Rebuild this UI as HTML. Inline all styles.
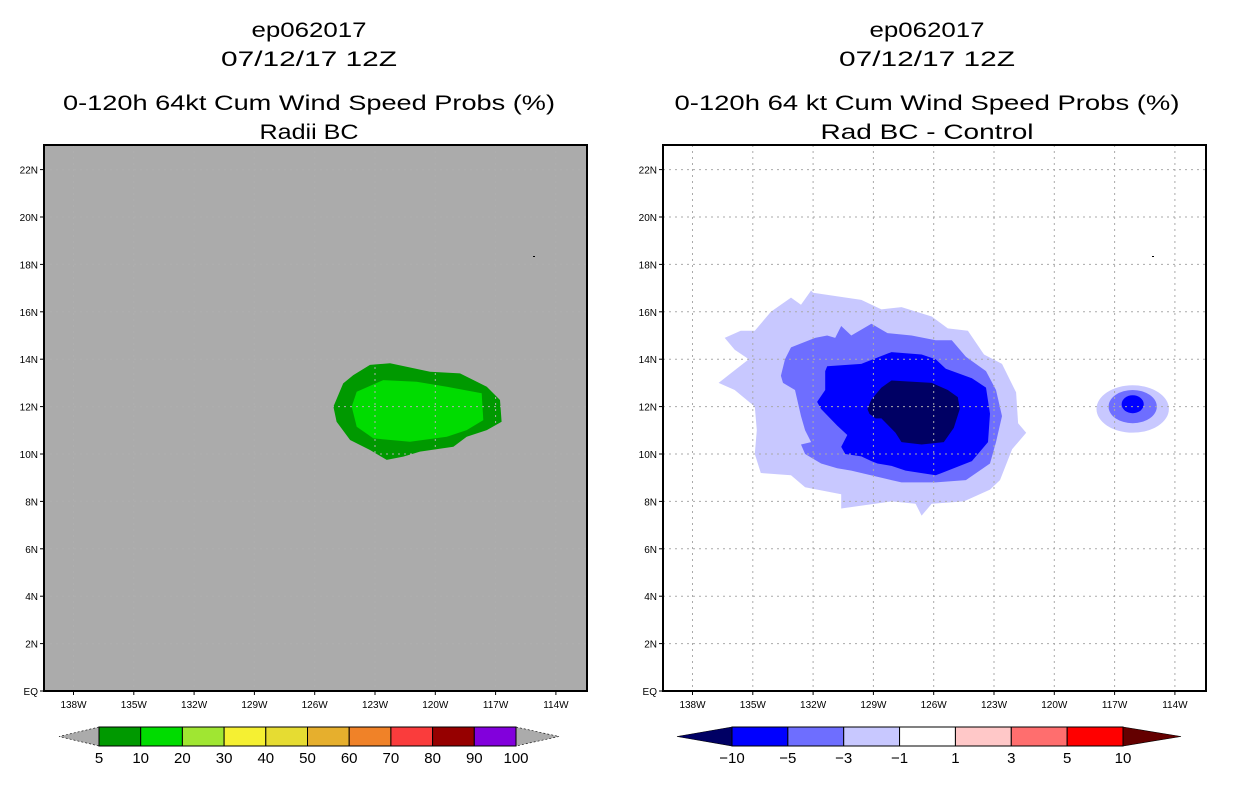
<!DOCTYPE html>
<html><head><meta charset="utf-8"><style>
html,body{margin:0;padding:0;background:#fff;}
svg{display:block;}
text{font-family:"Liberation Sans",sans-serif;fill:#000;}
</style></head><body>
<svg id="s" width="1236" height="800" viewBox="0 0 1236 800" xmlns="http://www.w3.org/2000/svg"></svg>
<script>
// ---- data ----
const lonTicks = [138,135,132,129,126,123,120,117,114];
const latTicks = [0,2,4,6,8,10,12,14,16,18,20,22];
const leftLevels = ["5","10","20","30","40","50","60","70","80","90","100"];
const leftColors = ["#009900","#00dc00","#a0e632","#f5f032","#e6dc32","#e6af2d","#f08228","#fa3c3c","#960000","#8200dc"];
const rightLevels = ["-10","-5","-3","-1","1","3","5","10"];
const rightColors = ["#0000ff","#6e6eff","#c8c8ff","#ffffff","#ffc8c8","#ff6e6e","#ff0000"];
// contour polygons [lonW, latN]
const green10 = [[123.25,13.76],[122.25,13.83],[120.26,13.47],[118.77,13.40],[117.44,12.84],[116.78,12.28],[116.70,11.36],[117.44,11.01],[118.44,10.73],[119.10,10.31],[120.76,10.10],[121.59,9.89],[122.42,9.75],[123.25,10.17],[124.24,10.59],[124.91,11.36],[125.07,12.0],[124.58,12.98],[124.08,13.33]];
const green20 = [[123.91,12.63],[122.59,13.12],[120.93,13.05],[119.43,12.84],[117.69,12.56],[117.61,11.43],[118.44,11.01],[119.43,10.73],[121.26,10.52],[123.08,10.66],[123.91,11.15],[124.16,12.0]];
const diffM1 = [[132.1,16.9],[132.0,16.8],[129.6,16.5],[128.6,16.1],[127.6,16.2],[126.1,15.8],[125.3,15.3],[124.3,15.2],[123.5,14.2],[122.6,13.8],[121.9,12.6],[121.8,11.3],[121.4,10.9],[122.1,10.2],[122.7,8.9],[123.2,8.5],[124.5,8.0],[126.1,7.9],[126.6,7.4],[126.9,7.9],[128.1,8.0],[130.6,7.7],[130.6,8.3],[132.4,8.6],[133.1,9.1],[134.6,9.2],[134.9,10.0],[134.8,11.0],[134.9,12.0],[135.9,12.7],[136.7,13.0],[136.1,13.4],[135.2,14.0],[135.9,14.4],[136.4,14.9],[135.6,15.2],[134.9,15.2],[134.1,16.0],[133.1,16.6],[132.6,16.3]];
const diffM3 = [[133.1,14.5],[131.9,14.9],[131.3,15.0],[130.9,14.9],[130.6,15.4],[130.1,15.0],[129.1,15.5],[128.3,15.1],[127.1,15.0],[125.9,14.8],[125.1,14.8],[124.4,14.1],[123.4,13.5],[122.9,12.7],[122.6,11.6],[122.9,10.5],[123.2,9.6],[124.4,8.9],[125.9,8.8],[127.6,8.8],[128.1,8.9],[130.1,9.3],[130.8,9.4],[131.6,9.6],[132.4,10.0],[132.6,10.4],[132.1,10.5],[132.4,11.0],[132.6,11.6],[132.9,12.7],[133.5,13.0],[133.6,13.3],[133.4,14.0]];
const diffM5 = [[131.3,13.7],[129.6,13.8],[128.1,14.3],[126.6,14.2],[125.9,14.0],[125.4,13.6],[124.1,13.2],[123.4,12.8],[123.2,11.7],[123.3,10.5],[124.1,9.7],[125.6,9.2],[125.9,9.1],[127.4,9.3],[128.1,9.5],[128.8,9.6],[129.1,9.7],[129.6,9.9],[130.4,10.0],[130.6,10.3],[130.3,10.8],[130.8,11.2],[131.6,11.9],[131.8,12.2],[131.4,12.7],[131.4,13.5]];
const diffM10 = [[129.3,11.9],[129.1,12.3],[128.6,12.8],[128.1,13.1],[126.1,13.0],[125.3,12.7],[124.8,12.4],[124.7,11.9],[125.0,11.1],[125.5,10.5],[126.6,10.4],[127.6,10.5],[127.9,10.9],[128.6,11.5],[128.9,11.5],[129.2,11.7]];
// small feature near 116W: [centerLonW, centerLatN, radLon, radLat]
const blobs = [[116.1,11.9,1.8,1.0,"#c8c8ff"],[116.1,12.0,1.2,0.7,"#6e6eff"],[116.1,12.1,0.55,0.38,"#0000ff"]];

// ---- helpers ----
const NS="http://www.w3.org/2000/svg";
const svg=document.getElementById('s');
function mk(tag,attrs,parent){const e=document.createElementNS(NS,tag);for(const k in attrs)e.setAttribute(k,attrs[k]);(parent||svg).appendChild(e);return e;}
function txt(x,y,s,size,anchor,len,parent){const t=mk('text',{x:x,y:y,'font-size':size,'text-anchor':anchor||'middle'},parent);if(len){t.setAttribute('textLength',len);t.setAttribute('lengthAdjust','spacingAndGlyphs');}t.textContent=s;return t;}

function panel(x0,name,bg){
  const x1=x0+543, y0=145, y1=691;
  const xs=lon=> (x0+29.5) + (138-lon)*20.1;
  const ys=lat=> 691 - lat*23.7;
  const g=mk('g',{});
  
  
  const clip=mk('clipPath',{id:'c'+x0},g);mk('rect',{x:x0,y:y0,width:543,height:546},clip);
  const bgr=mk('rect',{x:x0,y:y0,width:543,height:546,fill:bg},g);
  
  
  const inner=mk('g',{'clip-path':'url(#c'+x0+')'},g);
  return {g,inner,xs,ys,x0,x1,y0,y1};
}
function poly(P,pts,fill,name){
  const p=mk('polygon',{points:pts.map(q=>P.xs(q[0]).toFixed(1)+','+P.ys(q[1]).toFixed(1)).join(' '),fill:fill},P.inner);
  
  
}
function grid(P,col){
  lonTicks.forEach(l=>{const x=P.xs(l);mk('line',{x1:x,x2:x,y1:P.y0,y2:P.y1,stroke:col,'stroke-width':1,'stroke-dasharray':'2,4'},P.inner);});
  latTicks.forEach(l=>{if(l===0)return;const y=P.ys(l);mk('line',{x1:P.x0,x2:P.x1,y1:y,y2:y,stroke:col,'stroke-width':1,'stroke-dasharray':'2,4'},P.inner);});
}
function axes(P){
  const fr=mk('rect',{x:P.x0,y:P.y0,width:543,height:546,fill:'none',stroke:'#000','stroke-width':2},P.g);
  
  
  lonTicks.forEach(l=>{const x=P.xs(l);mk('line',{x1:x,x2:x,y1:P.y1,y2:P.y1+4,stroke:'#000'},P.g);
    const t=txt(x,P.y1+17,l+'W',10,'middle',null,P.g);
    
    });
  latTicks.forEach(l=>{const y=P.ys(l);mk('line',{x1:P.x0-4,x2:P.x0,y1:y,y2:y,stroke:'#000'},P.g);
    const t=txt(P.x0-6,y+4,l===0?'EQ':l+'N',10,'end',null,P.g);
    
    });
}

// ---- titles ----
function titles(cx,l3,l3len,l4,l4len,side){
  const a=[['ep062017',30,115],['07/12/17 12Z',59,176],[l3,103,l3len],[l4,132,l4len]];
  a.forEach((r,i)=>{const t=txt(cx,r[1]+7,r[0],21,'middle',r[2]);
    
    });
}
titles(309,'0-120h 64kt Cum Wind Speed Probs (%)',492,'Radii BC',99,'left');
titles(927,'0-120h 64 kt Cum Wind Speed Probs (%)',505,'Rad BC - Control',213,'right');

// ---- left panel ----
const L=panel(44,'left-map-panel','#ababab');
poly(L,green10,'#009900','contour-10-20');
poly(L,green20,'#00dc00','contour-20-30');
grid(L,'#afafaf');
mk('rect',{x:533,y:256,width:2,height:1,fill:'#000'},L.inner);
axes(L);

// ---- right panel ----
const R=panel(663,'right-map-panel','#ffffff');
poly(R,diffM1,'#c8c8ff','contour-minus1');
poly(R,diffM3,'#6e6eff','contour-minus3');
poly(R,diffM5,'#0000ff','contour-minus5');
poly(R,diffM10,'#000064','contour-minus10');
blobs.forEach(b=>{const e=mk('ellipse',{cx:R.xs(b[0]),cy:R.ys(b[1]),rx:b[2]*20.1,ry:b[3]*23.7,fill:b[4]},R.inner);
  
  });
grid(R,'#aaaaaa');
mk('rect',{x:1152,y:256,width:2,height:1,fill:'#000'},R.inner);
axes(R);

// ---- colorbars ----
function cbar(x0,x1,tipL,tipR,colors,labels,lc,rc,side){
  const g=mk('g',{});
  
  
  const y0=727,y1=746,ym=736.5,w=(x1-x0)/colors.length;
  mk('polygon',{points:`${x0},${y0} ${tipL},${ym} ${x0},${y1}`,fill:lc,stroke:'#000','stroke-width':0.6,'stroke-dasharray':lc==='#ababab'?'2,2':''},g);
  mk('polygon',{points:`${x1},${y0} ${tipR},${ym} ${x1},${y1}`,fill:rc,stroke:'#000','stroke-width':0.6,'stroke-dasharray':rc==='#ababab'?'2,2':''},g);
  colors.forEach((c,i)=>{const r=mk('rect',{x:x0+i*w,y:y0,width:w,height:y1-y0,fill:c,stroke:'#000','stroke-width':1},g);
    
    });
  const n=labels.length, off=(colors.length+1-n)/2;
  labels.forEach((s,i)=>{const t=txt(x0+(i+off)*w,763,s.replace('-','\u2212'),15,'middle',null,g);
    
    });
}
cbar(99,516,59,559,leftColors,leftLevels,'#ababab','#ababab','left');
cbar(732,1123,677,1181,rightColors,rightLevels,'#000064','#640000','right');
</script>
</body></html>
